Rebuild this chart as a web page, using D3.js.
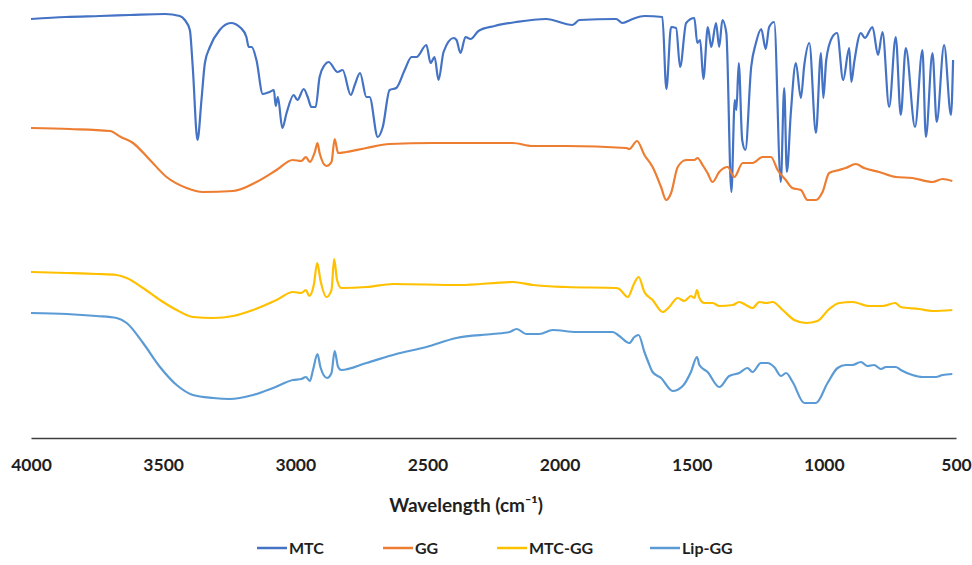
<!DOCTYPE html>
<html>
<head>
<meta charset="utf-8">
<script src="https://cdn.jsdelivr.net/npm/d3@7"></script>
<style>
  body { margin: 0; background: #fff; }
  svg { font-family: Lato, "Open Sans", sans-serif; }
</style>
</head>
<body>
<svg></svg>
<script>
// FTIR spectra, wavenumber (cm-1) vs transmittance (arbitrary, stacked)

let mtcWave = [4000,3868,3739,3626,3493,3437,3418,3399,3388,3370,3355,3342,3323,3286,3244,3206,3185,3176,3165,3147,3123,3097,3081,3074,3066,3049,3033,3006,2992,2968,2953,2939,2923,2908,2889,2874,2840,2821,2790,2775,2755,2731,2719,2688,2669,2643,2618,2586,2560,2541,2504,2488,2473,2458,2439,2401,2390,2375,2356,2337,2307,2246,2164,2051,1951,1925,1786,1762,1724,1679,1611,1596,1578,1559,1544,1521,1490,1479,1468,1456,1439,1426,1408,1396,1384,1369,1350,1337,1331,1322,1309,1297,1275,1257,1237,1220,1207,1188,1163,1150,1140,1125,1106,1087,1074,1055,1030,1011,1002,991,968,950,927,904,896,885,860,845,816,795,778,753,728,709,690,655,627,614,589,573,545,519,511];
let mtcValue = [419,421,422,423,424,422,418,408,371,298,338,375,391,408,415,410,401,391,391,378,344,346,348,332,341,310,325,343,338,349,341,331,331,361,373,376,366,368,343,353,365,341,341,301,311,348,350,368,381,381,393,375,381,358,386,400,398,385,401,399,407,412,416,419,413,418,419,415,419,422,421,349,411,410,371,415,420,395,398,359,411,391,415,391,418,405,246,338,328,375,298,288,371,395,409,389,411,416,256,350,266,325,375,340,373,395,305,385,340,378,401,405,358,390,356,376,405,400,411,383,406,331,401,323,390,311,388,301,385,316,393,323,378];

let ggWave = [4000,3853,3701,3660,3614,3550,3487,3411,3350,3236,3147,3071,3010,2977,2960,2945,2926,2916,2908,2882,2863,2851,2838,2807,2731,2643,2480,2178,2102,1974,1748,1736,1707,1679,1648,1616,1597,1578,1553,1521,1490,1478,1459,1440,1421,1396,1364,1339,1307,1270,1232,1200,1175,1144,1119,1087,1062,1030,1005,980,942,917,879,848,791,728,665,589,551,514];
let ggValue = [310,309,307,301,295,278,261,250,246,247,256,268,278,277,281,276,286,295,285,272,276,299,285,286,290,294,295,295,292,292,290,289,297,283,271,251,238,245,271,278,278,280,273,265,256,266,271,261,275,275,281,281,268,258,250,248,238,238,246,265,268,270,274,270,266,261,260,256,259,257];

let mtcggWave = [4000,3865,3752,3676,3638,3576,3512,3449,3387,3311,3235,3160,3071,3009,2977,2960,2947,2930,2917,2905,2882,2863,2853,2842,2826,2731,2630,2378,2177,2101,1975,1786,1774,1742,1717,1701,1679,1648,1610,1585,1553,1528,1503,1490,1480,1471,1452,1421,1396,1345,1320,1295,1270,1244,1219,1194,1156,1112,1068,1024,980,942,892,829,778,730,709,640,589,514];
let mtcggValue = [166,165,164,163,160,150,138,128,121,120,122,128,138,146,145,148,142,153,175,158,141,148,179,158,150,151,154,153,156,153,151,150,149,141,155,161,146,138,126,131,140,137,142,140,148,140,135,135,132,133,136,133,130,136,135,136,128,118,115,117,129,135,136,132,132,135,131,129,127,128];

let lipggWave = [4000,3865,3752,3676,3638,3576,3512,3449,3387,3311,3248,3160,3084,3009,2977,2960,2945,2933,2916,2905,2880,2863,2851,2838,2826,2731,2618,2504,2391,2253,2189,2162,2126,2076,2026,1937,1799,1774,1736,1717,1701,1679,1663,1648,1616,1572,1534,1503,1480,1471,1440,1396,1358,1320,1289,1270,1238,1213,1188,1162,1143,1118,1074,1049,1030,986,948,917,892,860,835,810,784,765,728,709,665,627,576,551,514];
let lipggValue = [125,124,122,120,115,95,71,53,43,40,39,43,50,58,59,61,57,68,84,71,60,65,87,71,68,75,84,91,100,104,106,109,104,104,108,106,106,102,95,101,103,86,75,66,60,47,52,66,81,73,66,51,62,65,70,66,75,75,71,62,65,56,35,35,35,55,70,73,73,76,72,73,69,71,71,68,63,61,61,63,64];

let seriesNames = ['MTC', 'GG', 'MTC-GG', 'Lip-GG'];
let seriesColors = ['#4472C4', '#ED7D31', '#FFC000', '#5B9BD5'];
let xTicks = [4000, 3500, 3000, 2500, 2000, 1500, 1000, 500];

let width = 972;
let height = 565;
let plotLeft = 31;
let plotRight = 956;
let plotBottom = 438;

let svg = d3.select('svg')
  .attr('width', width)
  .attr('height', height);

let x = d3.scaleLinear()
  .domain([4000, 500])
  .range([plotLeft, plotRight]);

let y = d3.scaleLinear()
  .domain([0, 438])
  .range([plotBottom, 0]);

let series = [
  { name: seriesNames[0], wave: mtcWave, value: mtcValue },
  { name: seriesNames[1], wave: ggWave, value: ggValue },
  { name: seriesNames[2], wave: mtcggWave, value: mtcggValue },
  { name: seriesNames[3], wave: lipggWave, value: lipggValue }
].map((s, i) => ({
  name: s.name,
  color: seriesColors[i],
  points: s.wave.map((w, j) => [w, s.value[j]])
}));

let line = d3.line()
  .x(d => x(d[0]))
  .y(d => y(d[1]))
  .curve(d3.curveMonotoneX);

// spectra
svg.selectAll('path.spectrum')
  .data(series)
  .enter()
  .append('path')
    .classed('spectrum', true)
    .attr('fill', 'none')
    .attr('stroke', d => d.color)
    .attr('stroke-width', 2.2)
    .attr('stroke-linejoin', 'round')
    .attr('d', d => line(d.points));

// x axis
let xAxis = svg.append('g')
  .attr('transform', `translate(0,${plotBottom})`)
  .call(d3.axisBottom(x).tickValues(xTicks).tickSize(0).tickPadding(21).tickFormat(d3.format('d')));

xAxis.select('.domain')
  .attr('stroke', '#404040')
  .attr('stroke-width', 1.3);

xAxis.selectAll('text')
  .attr('font-family', 'Lato, sans-serif')
  .attr('font-size', 17.5)
  .attr('font-weight', 'bold')
  .attr('fill', '#1f1f1f');

svg.append('text')
  .attr('x', 466)
  .attr('y', 512)
  .attr('text-anchor', 'middle')
  .attr('font-size', 19)
  .attr('font-weight', 'bold')
  .attr('fill', '#1f1f1f')
  .text('Wavelength (cm\u207B\u00B9)');

// legend
let legendX = [257, 383, 497, 650];
let legend = svg.selectAll('g.legend')
  .data(series)
  .enter()
  .append('g')
    .classed('legend', true)
    .attr('transform', (d, i) => `translate(${legendX[i]},548)`);

legend.append('line')
  .attr('x1', 0)
  .attr('x2', 30)
  .attr('stroke', d => d.color)
  .attr('stroke-width', 2.5);

legend.append('text')
  .attr('x', 32)
  .attr('dy', '0.36em')
  .attr('font-size', 16)
  .attr('font-weight', 'bold')
  .attr('fill', '#1f1f1f')
  .text(d => d.name);
</script>
</body>
</html>
